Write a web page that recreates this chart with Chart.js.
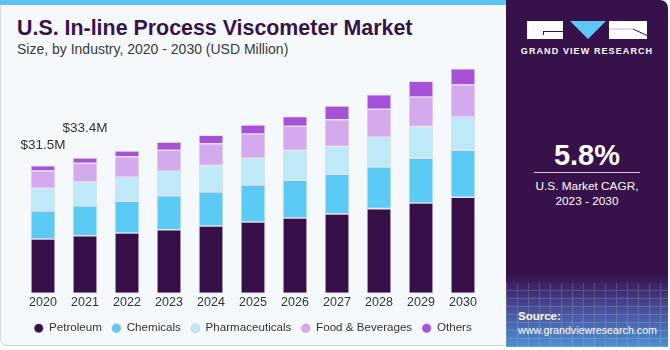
<!DOCTYPE html>
<html>
<head>
<meta charset="utf-8">
<script src="https://cdn.jsdelivr.net/npm/chart.js@4.4.0/dist/chart.umd.min.js"></script>
<style>
  html, body { margin: 0; padding: 0; background: #fff; }
  body { width: 670px; height: 350px; position: relative; overflow: hidden; font-family: "Liberation Sans", Arial, sans-serif; }
  #panel { position: absolute; left: 0; top: 0; width: 505px; height: 346px; background: #f5f9fc; border-left: 1px solid #d6d9de; border-bottom: 1px solid #d0d3d8; border-bottom-left-radius: 7px; box-sizing: border-box; }
  #stripe { position: absolute; left: 0; top: 0; width: 506px; height: 5px; background: #5bc4f0; }
  #title { position: absolute; left: 17px; top: 18px; font-size: 21.4px; line-height: 21px; font-weight: bold; color: #37134b; white-space: nowrap; }
  #subtitle { position: absolute; left: 17px; top: 41.5px; font-size: 14px; line-height: 14px; color: #3a3a3a; white-space: nowrap; }
  #chartBox { position: absolute; left: 0; top: 0; width: 505px; height: 346px; }
  #side { position: absolute; left: 506px; top: 0; width: 162px; height: 347px; border-top-right-radius: 8px; overflow: hidden;
    background: linear-gradient(to bottom, #37114a 0%, #37114a 79%, #3c2266 82%, #4a5aa4 91%, #4c8ed2 100%); }
  #mesh { position: absolute; left: 0; bottom: 0; width: 162px; height: 64px; opacity: 0.16;
    background-image: repeating-linear-gradient(90deg, #fff 0 1px, transparent 1px 11px), repeating-linear-gradient(0deg, #fff 0 1px, transparent 1px 8px); }
  .logo { position: absolute; background: #fff; }
  #gvr { position: absolute; left: 0; top: 46px; width: 162px; text-align: center; color: #fff; font-weight: bold; font-size: 9px; letter-spacing: 1.1px; }
  #cagr { position: absolute; left: 0; top: 141px; width: 162px; text-align: center; color: #fff; font-weight: bold; font-size: 29px; line-height: 29px; }
  #rule { position: absolute; left: 28px; top: 172px; width: 106px; height: 1px; background: #cfc6d8; }
  #cagrText { position: absolute; left: 0; top: 179px; width: 162px; text-align: center; color: #fff; font-size: 11.8px; line-height: 15px; }
  #source { position: absolute; left: 12px; top: 309px; color: #fff; font-size: 10.7px; line-height: 14px; }
</style>
</head>
<body>
<div id="panel"></div>
<div id="stripe"></div>
<div id="title">U.S. In-line Process Viscometer Market</div>
<div id="subtitle">Size, by Industry, 2020 - 2030 (USD Million)</div>
<div id="chartBox"><canvas id="chart" width="505" height="346"></canvas></div>

<div id="side">
  <div id="mesh"></div>
  <div class="logo" style="left:21px; top:21px; width:36px; height:18px;"></div>
  <div style="position:absolute; left:37px; top:31px; width:20px; height:1px; background:#37114a;"></div>
  <div style="position:absolute; left:37px; top:31px; width:1px; height:4px; background:#37114a;"></div>
  <svg style="position:absolute; left:64px; top:21px;" width="36" height="18"><polygon points="0,0 36,0 18,18" fill="#5bc8f5"/></svg>
  <div class="logo" style="left:103px; top:21px; width:38px; height:18px;"></div>
  <svg style="position:absolute; left:103px; top:21px;" width="38" height="18"><line x1="24" y1="8" x2="38" y2="14.5" stroke="#37114a" stroke-width="1"/><line x1="0" y1="8" x2="24" y2="8" stroke="#37114a" stroke-width="0.6" opacity="0.5"/></svg>
  <div id="gvr">GRAND VIEW RESEARCH</div>
  <div id="cagr">5.8%</div>
  <div id="rule"></div>
  <div id="cagrText">U.S. Market CAGR,<br>2023 - 2030</div>
  <div id="source"><b style="font-size:11.5px">Source:</b><br>www.grandviewresearch.com</div>
</div>

<script>
// values in USD million
const years = ["2020", "2021", "2022", "2023", "2024", "2025", "2026", "2027", "2028", "2029", "2030"]
const petroleum = [13.4, 14.2, 14.9, 15.7, 16.6, 17.6, 18.6, 19.6, 20.9, 22.3, 23.7]
const chemicals = [6.9, 7.4, 7.8, 8.4, 8.4, 9.1, 9.3, 9.8, 10.3, 11.0, 11.6]
const pharmaceuticals = [5.6, 5.9, 6.0, 6.0, 6.5, 6.7, 7.3, 6.8, 7.3, 7.8, 8.2]
const foodBeverages = [4.3, 4.6, 5.0, 5.2, 5.4, 5.9, 6.0, 6.6, 6.9, 7.3, 7.9]
const others = [1.3, 1.3, 1.4, 2.0, 2.1, 2.2, 2.4, 3.4, 3.6, 3.9, 4.0]

const seriesNames = ["Petroleum", "Chemicals", "Pharmaceuticals", "Food & Beverages", "Others"]
const seriesColors = ["#370f48", "#5bcbf6", "#bde9f9", "#d5a9ed", "#a651d8"]

// which bars get a total label, and how far above the bar the label sits
const labelledBars = [0, 1]
const labelLift = [20, 30]

const seriesData = [petroleum, chemicals, pharmaceuticals, foodBeverages, others]

const totalLabels = {
  id: "totalLabels",
  afterDatasetsDraw(chart) {
    const ctx = chart.ctx
    const topMeta = chart.getDatasetMeta(seriesData.length - 1)
    ctx.save()
    ctx.font = "13.5px 'Liberation Sans', Arial, sans-serif"
    ctx.fillStyle = "#333"
    ctx.textAlign = "center"
    ctx.textBaseline = "middle"
    labelledBars.forEach((idx, i) => {
      const total = seriesData.reduce((sum, s) => sum + s[idx], 0)
      const bar = topMeta.data[idx]
      ctx.fillText("$" + total.toFixed(1) + "M", bar.x, bar.y - labelLift[i])
    })
    ctx.restore()
  },
}

new Chart(document.getElementById("chart"), {
  type: "bar",
  data: {
    labels: years,
    datasets: seriesData.map((values, i) => ({
      label: seriesNames[i],
      data: values,
      backgroundColor: seriesColors[i],
      borderColor: "rgba(190,180,210,0.55)",
      borderWidth: 0.8,
      borderSkipped: false,
      barPercentage: 0.58,
      categoryPercentage: 1,
    })),
  },
  options: {
    responsive: false,
    animation: false,
    layout: { padding: { left: 22, right: 21, top: 50, bottom: 2 } },
    scales: {
      x: {
        stacked: true,
        grid: { display: false, drawTicks: false },
        border: { display: false },
        ticks: { color: "#333", padding: 2, font: { size: 12.5, family: "'Liberation Sans', Arial, sans-serif" } },
      },
      y: {
        stacked: true,
        display: false,
        min: 0,
        max: 60,
      },
    },
    plugins: {
      legend: {
        position: "bottom",
        labels: {
          usePointStyle: true,
          pointStyle: "circle",
          boxWidth: 9,
          boxHeight: 6.4,
          padding: 10,
          color: "#333",
          font: { size: 11.6, family: "'Liberation Sans', Arial, sans-serif" },
        },
      },
      tooltip: { enabled: false },
    },
  },
  plugins: [totalLabels],
})
</script>
</body>
</html>
